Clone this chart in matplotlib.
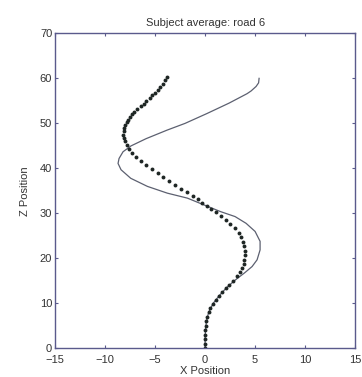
import matplotlib
matplotlib.use("Agg")
import matplotlib.pyplot as plt

plt.rcParams['font.family'] = ['Liberation Sans', 'DejaVu Sans']

# subject average (dots)
avg_z = [0.0, 1.0, 2.0, 3.0, 4.0, 5.0, 6.0, 7.0, 8.0, 9.0, 9.9, 10.8, 11.7,
         12.6, 13.4, 14.2, 15.1, 16.0, 17.0, 17.9, 18.8, 19.7, 20.7, 21.7,
         22.7, 23.6, 24.7, 25.6, 26.7, 27.6, 28.6, 29.5, 30.3, 31.0, 31.7,
         32.4, 33.1, 33.9, 34.7, 35.5, 36.3, 37.1, 38.0, 38.9, 39.8, 40.7,
         41.6, 42.5, 43.4, 44.3, 45.2, 46.0, 46.8, 47.5, 48.2, 48.9, 49.6,
         50.2, 50.8, 51.4, 52.0, 52.6, 53.2, 53.8, 54.4, 55.0, 55.6, 56.2,
         56.8, 57.4, 58.0, 58.8, 59.6, 60.4]
avg_x = [0.0, 0.0, 0.0, 0.02, 0.04, 0.07, 0.13, 0.22, 0.35, 0.52, 0.75, 1.05,
         1.35, 1.7, 2.05, 2.4, 2.8, 3.2, 3.5, 3.7, 3.87, 3.94, 3.97, 3.97,
         3.94, 3.8, 3.64, 3.37, 2.97, 2.54, 2.1, 1.6, 1.1, 0.6, 0.2,
         -0.3, -0.7, -1.2, -1.8, -2.4, -3.0, -3.6, -4.2, -4.75, -5.3, -5.9,
         -6.4, -6.9, -7.3, -7.6, -7.85, -8.05, -8.15, -8.2, -8.15, -8.1, -8.0,
         -7.85, -7.7, -7.5, -7.3, -7.1, -6.85, -6.45, -6.13, -5.86, -5.55, -5.26,
         -5.0, -4.74, -4.5, -4.25, -4.04, -3.84]

# road centre line (solid)
road_z = [60.0, 59.0, 58.2, 57.2, 56.6, 54.5, 52.2, 50.0, 48.5, 46.6, 45.0,
          43.7, 42.2, 41.1, 39.7, 37.8, 36.0, 34.5, 33.4, 31.9, 30.4, 29.3,
          27.8, 26.0, 23.8, 21.9, 19.7, 18.2, 16.8, 15.7, 15.0, 13.4, 11.7,
          10.0, 8.0, 6.0, 4.0, 2.0, 0.0]
road_x = [5.4, 5.35, 5.1, 4.6, 4.2, 2.4, 0.2, -2.0, -3.8, -5.9, -7.4,
          -8.2, -8.6, -8.7, -8.4, -7.43, -5.76, -3.77, -1.77, -0.12, 1.55, 3.0,
          4.1, 5.0, 5.5, 5.5, 5.2, 4.7, 3.95, 3.3, 2.9, 2.1, 1.4,
          0.8, 0.35, 0.13, 0.04, 0.0, 0.0]

x_ticks = [-15, -10, -5, 0, 5, 10, 15]
z_ticks = [0, 10, 20, 30, 40, 50, 60, 70]

fig = plt.figure(figsize=(3.62, 3.77), dpi=100)
ax = fig.add_axes([0.152, 0.0756, 0.829, 0.836])

ax.plot(road_x, road_z, '-', color='#5c6070', lw=0.9)
ax.plot(avg_x, avg_z, 'o', color='#1e2624', ms=2.8, mew=0)

ax.set_xlim(-15, 15)
ax.set_ylim(0, 70)
ax.set_xticks(x_ticks)
ax.set_yticks(z_ticks)
ax.tick_params(direction='in', length=2.5, width=0.8, top=True, right=True,
               labelsize=8, colors='#5a5a8c', labelcolor='#333333', pad=2)
ax.tick_params(axis='x', pad=4.5)
for s in ax.spines.values():
    s.set_color('#5a5a8c')
    s.set_linewidth(1.0)

ax.set_title('Subject average: road 6', fontsize=8, color='#333333', pad=5)
ax.set_xlabel('X Position', fontsize=8, color='#333333', labelpad=1)
ax.set_ylabel('Z Position', fontsize=8, color='#333333', labelpad=7)

plt.savefig("out.png", dpi=100)
